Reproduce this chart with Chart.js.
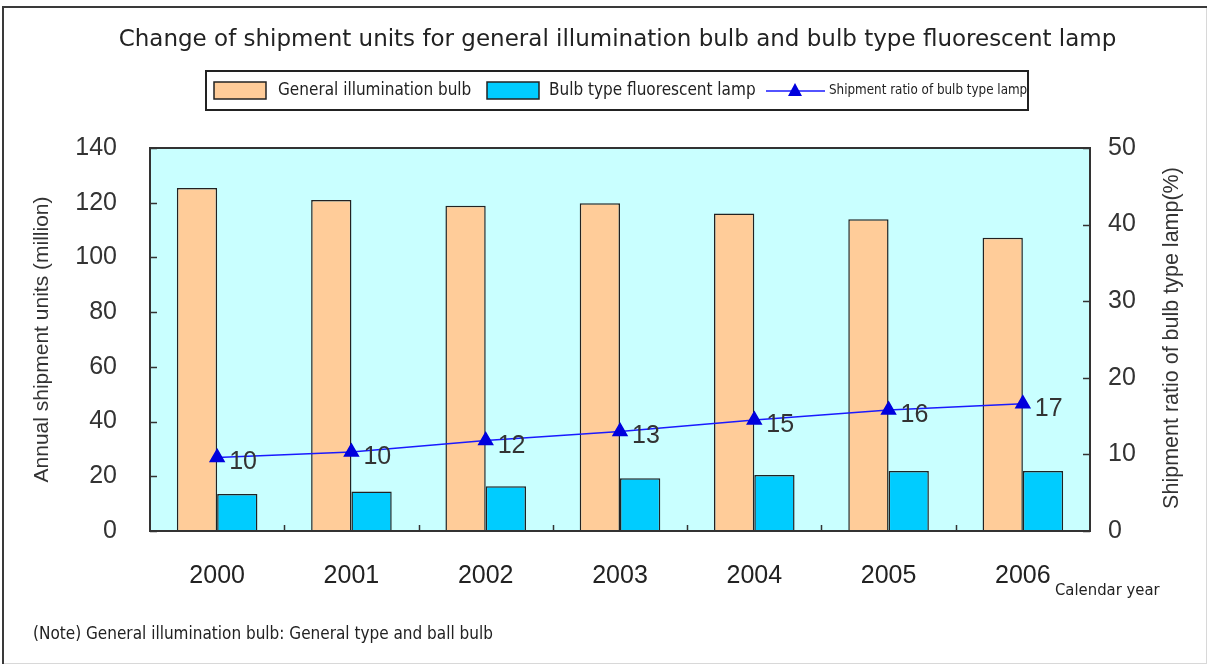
<!DOCTYPE html>
<html>
<head>
<meta charset="utf-8">
<script src="https://cdn.jsdelivr.net/npm/chart.js@4/dist/chart.umd.min.js"></script>
<style>
  html, body { margin: 0; padding: 0; background: #ffffff; }
  #wrap { width: 1210px; height: 666px; position: relative; }
</style>
</head>
<body>
<div id="wrap"><canvas id="c" width="1210" height="666"></canvas></div>
<script>
const chartTitle = 'Change of shipment units for general illumination bulb and bulb type fluorescent lamp';
const years = ['2000', '2001', '2002', '2003', '2004', '2005', '2006'];
const generalBulb = [125.4, 121.0, 118.9, 119.8, 116.1, 114.0, 107.2];
const fluorescentLamp = [13.5, 14.4, 16.4, 19.3, 20.5, 21.9, 21.9];
const shipmentRatio = [9.6, 10.3, 11.8, 13.0, 14.5, 15.8, 16.6];
const ratioLabels = ['10', '10', '12', '13', '15', '16', '17'];
const leftTicks = [0, 20, 40, 60, 80, 100, 120, 140];
const rightTicks = [0, 10, 20, 30, 40, 50];
const seriesNames = ['General illumination bulb', 'Bulb type fluorescent lamp', 'Shipment ratio of bulb type lamp'];
const leftTitle = 'Annual shipment units (million)';
const rightTitle = 'Shipment ratio of bulb type lamp(%)';
const xTitle = 'Calendar year';
const noteText = '(Note) General illumination bulb: General type and ball bulb';

const COND = '"DejaVu Sans Condensed", "Liberation Sans Narrow", "DejaVu Sans", sans-serif';
const SANS = '"Liberation Sans", Arial, sans-serif';

const decor = {
  id: 'decor',
  beforeDraw(chart) {
    const ctx = chart.ctx, a = chart.chartArea;
    ctx.save();
    ctx.fillStyle = '#ffffff';
    ctx.fillRect(0, 0, chart.width, chart.height);
    ctx.strokeStyle = '#d8d8d8'; ctx.lineWidth = 1;
    ctx.strokeRect(3.5, 7.5, 1203, 656);
    ctx.strokeStyle = '#3a3a3a'; ctx.lineWidth = 2;
    ctx.beginPath(); ctx.moveTo(3, 664); ctx.lineTo(3, 7); ctx.lineTo(1207, 7); ctx.stroke();
    ctx.fillStyle = '#c9ffff';
    ctx.fillRect(a.left, a.top, a.right - a.left, a.bottom - a.top);
    ctx.restore();
  },
  afterDatasetsDraw(chart) {
    const ctx = chart.ctx, a = chart.chartArea;
    const xs = chart.scales.x, yl = chart.scales.y, yr = chart.scales.y2;
    ctx.save();
    ctx.strokeStyle = '#333333'; ctx.lineWidth = 2;
    ctx.strokeRect(a.left, a.top, a.right - a.left, a.bottom - a.top);
    ctx.lineWidth = 1.5;
    leftTicks.forEach(v => {
      const y = Math.round(yl.getPixelForValue(v)) + 0.5;
      ctx.beginPath(); ctx.moveTo(a.left, y); ctx.lineTo(a.left + 7, y); ctx.stroke();
    });
    rightTicks.forEach(v => {
      const y = Math.round(yr.getPixelForValue(v)) + 0.5;
      ctx.beginPath(); ctx.moveTo(a.right, y); ctx.lineTo(a.right - 7, y); ctx.stroke();
    });
    for (let i = 1; i < years.length; i++) {
      const x = Math.round((xs.getPixelForValue(i - 1) + xs.getPixelForValue(i)) / 2) + 0.5;
      ctx.beginPath(); ctx.moveTo(x, a.bottom); ctx.lineTo(x, a.bottom - 6); ctx.stroke();
    }
    ctx.restore();
  },
  afterDraw(chart) {
    const ctx = chart.ctx;
    const meta = chart.getDatasetMeta(2);
    ctx.save();
    ctx.fillStyle = '#333333';
    ctx.font = '25px ' + SANS;
    ctx.textAlign = 'left'; ctx.textBaseline = 'middle';
    meta.data.forEach((pt, i) => {
      ctx.fillText(ratioLabels[i], pt.x + 12, pt.y + 5);
    });
    // right axis title
    ctx.save();
    ctx.translate(1172, 338);
    ctx.rotate(-Math.PI / 2);
    ctx.textAlign = 'center'; ctx.textBaseline = 'middle';
    ctx.font = '21.5px ' + SANS;
    ctx.fillStyle = '#333333';
    ctx.fillText(rightTitle, 0, 0);
    ctx.restore();
    // calendar year
    ctx.font = '16.5px ' + COND;
    ctx.fillStyle = '#222222';
    ctx.textAlign = 'left'; ctx.textBaseline = 'middle';
    ctx.fillText(xTitle, 1055, 591);
    // note
    ctx.font = '17px ' + COND;
    ctx.fillText(noteText, 33, 635);
    // legend
    const lx = 206, ly = 71, lw = 822, lh = 39;
    ctx.fillStyle = '#ffffff';
    ctx.fillRect(lx, ly, lw, lh);
    ctx.strokeStyle = '#222222'; ctx.lineWidth = 2;
    ctx.strokeRect(lx, ly, lw, lh);
    const ds = chart.data.datasets;
    ctx.lineWidth = 1.5;
    ctx.fillStyle = ds[0].backgroundColor; ctx.fillRect(214, 82, 52, 17);
    ctx.strokeStyle = '#222'; ctx.strokeRect(214, 82, 52, 17);
    ctx.fillStyle = '#222222';
    ctx.font = '17px ' + COND; ctx.textBaseline = 'middle';
    ctx.fillText(seriesNames[0], 278, 91);
    ctx.fillStyle = ds[1].backgroundColor; ctx.fillRect(487, 82, 52, 17);
    ctx.strokeStyle = '#222'; ctx.strokeRect(487, 82, 52, 17);
    ctx.fillStyle = '#222222';
    ctx.font = '17px ' + COND;
    ctx.fillText(seriesNames[1], 549, 91);
    ctx.strokeStyle = ds[2].borderColor; ctx.lineWidth = 1.5;
    ctx.beginPath(); ctx.moveTo(766, 91); ctx.lineTo(825, 91); ctx.stroke();
    ctx.fillStyle = ds[2].pointBackgroundColor;
    ctx.beginPath(); ctx.moveTo(795, 83); ctx.lineTo(802, 96); ctx.lineTo(788, 96); ctx.closePath(); ctx.fill();
    ctx.fillStyle = '#222222';
    ctx.font = '13.3px ' + COND;
    ctx.fillText(seriesNames[2], 829, 91);
    ctx.restore();
  }
};

new Chart(document.getElementById('c'), {
  data: {
    labels: years,
    datasets: [
      { type: 'bar', label: seriesNames[0], data: generalBulb, yAxisID: 'y',
        backgroundColor: '#ffcc99', borderColor: '#222222', borderWidth: 1.5,
        categoryPercentage: 0.6, barPercentage: 1.0, order: 2 },
      { type: 'bar', label: seriesNames[1], data: fluorescentLamp, yAxisID: 'y',
        backgroundColor: '#00ccff', borderColor: '#222222', borderWidth: 1.5,
        categoryPercentage: 0.6, barPercentage: 1.0, order: 2 },
      { type: 'line', label: seriesNames[2], data: shipmentRatio, yAxisID: 'y2',
        borderColor: '#1a1aff', borderWidth: 1.5, pointStyle: 'triangle', pointRadius: 8,
        pointBackgroundColor: '#0000dd', pointBorderColor: '#0000dd', tension: 0, order: 1 }
    ]
  },
  options: {
    responsive: false,
    animation: false,
    events: [],
    layout: { padding: { left: 25, right: 0, top: 0, bottom: 0 } },
    plugins: {
      legend: { display: false },
      tooltip: { enabled: false },
      title: {
        display: true, text: chartTitle, color: '#222222',
        font: { family: '"DejaVu Sans", sans-serif', size: 23, weight: 'normal', lineHeight: 1.2 },
        padding: { top: 26.2, bottom: 94.2 }
      }
    },
    scales: {
      x: {
        type: 'category',
        grid: { display: false, drawTicks: false },
        border: { display: false },
        ticks: { color: '#222222', font: { family: SANS, size: 25 }, padding: 30, maxRotation: 0 },
        afterFit(s) { s.height = 135; }
      },
      y: {
        position: 'left', min: 0, max: 140,
        grid: { display: false, drawTicks: false },
        border: { display: false },
        ticks: { stepSize: 20, color: '#333333', font: { family: SANS, size: 25 }, padding: 33 },
        title: { display: true, text: leftTitle, color: '#333333', font: { family: SANS, size: 21 }, padding: { top: 5, bottom: 0 } },
        afterFit(s) { s.width = 125; }
      },
      y2: {
        position: 'right', min: 0, max: 50,
        grid: { display: false, drawTicks: false },
        border: { display: false },
        ticks: { stepSize: 10, color: '#333333', font: { family: SANS, size: 25 }, padding: 18 },
        afterFit(s) { s.width = 120; }
      }
    }
  },
  plugins: [decor]
});
</script>
</body>
</html>
